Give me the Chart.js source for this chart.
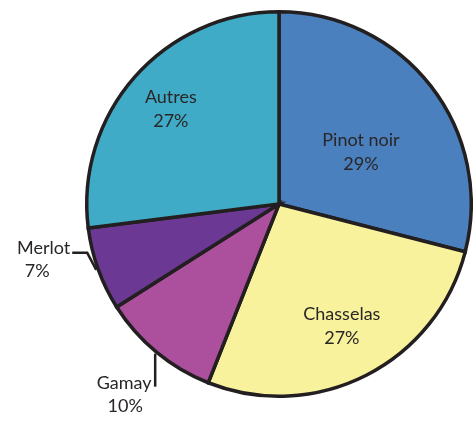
<!DOCTYPE html>
<html>
<head>
<meta charset="utf-8">
<script src="https://cdn.jsdelivr.net/npm/chart.js@4"></script>
<style>
  html, body { margin: 0; padding: 0; background: #fff; }
  #wrap { width: 473px; height: 421px; position: relative; }
</style>
</head>
<body>
<div id="wrap"><canvas id="pie"></canvas></div>
<script>
// cépages
const labels = ["Pinot noir", "Chasselas", "Gamay", "Merlot", "Autres"];
const shares = [29, 27, 10, 7, 27];
const colors = ["#4a80be", "#f7f29b", "#ac509d", "#6b3993", "#40abc7"];

// where each label sits: fraction of radius (inside) or outside with leader
const labelPos = [
  { r: 0.52, inside: true, dx: 3, dy: 9 },
  { r: 0.72, inside: true, dx: 0, dy: -1 },
  { r: 1.0, inside: false, kind: "vertical" },
  { r: 1.0, inside: false, kind: "elbow" },
  { r: 0.75, inside: true, dx: 0, dy: 1 }
];

const ink = "#231f20";
const font = "18px Lato, 'Open Sans', sans-serif";

const sliceLabels = {
  id: "sliceLabels",
  afterDatasetsDraw(chart) {
    const ctx = chart.ctx;
    const arcs = chart.getDatasetMeta(0).data;
    ctx.save();
    ctx.font = font;
    ctx.fillStyle = "#2a2627";
    ctx.strokeStyle = ink;
    ctx.textAlign = "center";
    ctx.textBaseline = "middle";
    arcs.forEach(function (arc, i) {
      const mid = (arc.startAngle + arc.endAngle) / 2;
      const R = arc.outerRadius;
      const pct = shares[i] + "%";
      const p = labelPos[i];
      if (p.inside) {
        const x = arc.x + Math.cos(mid) * R * p.r + p.dx;
        const y = arc.y + Math.sin(mid) * R * p.r + p.dy;
        ctx.fillText(labels[i], x, y - 12);
        ctx.fillText(pct, x, y + 12);
      } else if (p.kind === "vertical") {
        // Gamay: short vertical leader under the rim
        const ex = arc.x + Math.cos(mid) * (R + 2);
        const ey = arc.y + Math.sin(mid) * (R + 2);
        ctx.lineWidth = 2.5;
        ctx.beginPath();
        ctx.moveTo(ex, ey);
        ctx.lineTo(ex, ey + 33);
        ctx.stroke();
        ctx.fillText(labels[i], ex - 31, ey + 30);
        ctx.fillText(pct, ex - 30, ey + 53);
      } else {
        // Merlot: diagonal then horizontal leader to the left
        const ex = arc.x + Math.cos(mid) * (R + 2);
        const ey = arc.y + Math.sin(mid) * (R + 2);
        ctx.lineWidth = 2.5;
        ctx.beginPath();
        ctx.moveTo(ex, ey);
        ctx.lineTo(ex - 9, ey - 17);
        ctx.lineTo(ex - 24, ey - 17);
        ctx.stroke();
        ctx.textAlign = "right";
        ctx.fillText(labels[i], ex - 26, ey - 22);
        ctx.textAlign = "center";
        ctx.fillText(pct, ex - 59, ey + 1);
      }
    });
    ctx.restore();
  }
};

new Chart(document.getElementById("pie"), {
  type: "pie",
  data: {
    labels: labels,
    datasets: [{
      data: shares,
      backgroundColor: colors,
      borderColor: ink,
      borderWidth: 3.5,
      borderJoinStyle: "miter"
    }]
  },
  options: {
    responsive: true,
    maintainAspectRatio: false,
    animation: false,
    rotation: 0,
    layout: { padding: { left: 85, right: 0, top: 10, bottom: 23 } },
    plugins: {
      legend: { display: false },
      tooltip: { enabled: false }
    }
  },
  plugins: [sliceLabels]
});
</script>
</body>
</html>
